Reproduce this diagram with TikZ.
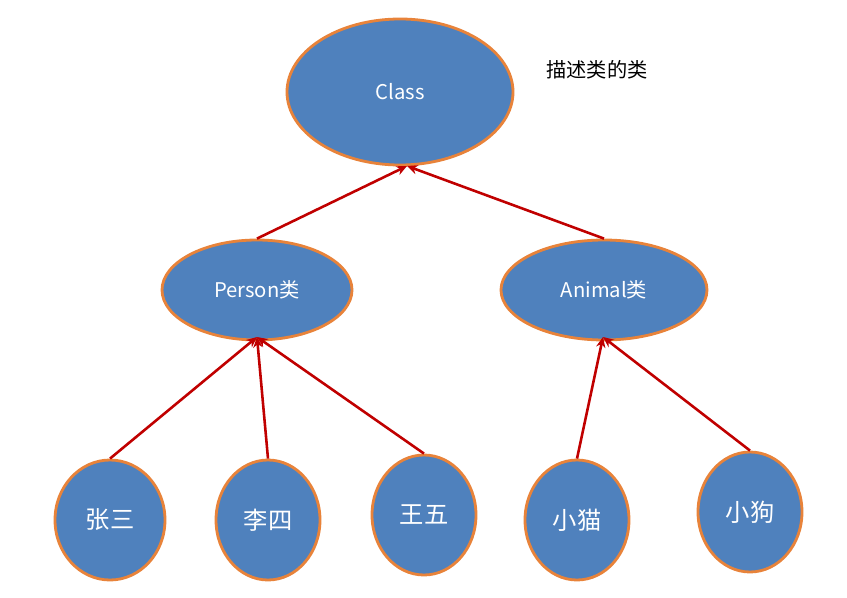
\documentclass[tikz,border=0pt]{standalone}
\usepackage{fontspec}
\setmainfont{Carlito}
\newfontfamily\cjk{Noto Sans CJK SC}
\usetikzlibrary{positioning,shapes,arrows.meta}
\definecolor{fillblue}{HTML}{4F81BD}
\definecolor{rimorange}{HTML}{E8833A}
\definecolor{arrowred}{HTML}{C00000}
\tikzset{
	blob/.style = {ellipse, draw=rimorange, line width=2.4pt, fill=fillblue, text=white, font=\cjk\LARGE, inner sep=0pt},
	leaf/.style = {blob, font=\cjk\huge, minimum width=3.12cm, minimum height=3.6cm},
	link/.style = {-{Stealth[length=9pt,width=8pt]}, draw=arrowred, line width=2.2pt}
}
\begin{document}
\begin{tikzpicture}[x=0.03cm, y=-0.03cm]
	\useasboundingbox (0,0) rectangle (847,598);
	\node (cls) [blob, minimum width=6.78cm, minimum height=4.38cm] at (400,92) {Class};
	\node (note) [font=\cjk\LARGE] at (597,70) {描述类的类};
	\node (per) [blob, minimum width=5.7cm, minimum height=3cm] at (257,290) {Person类};
	\node (ani) [blob, minimum width=6.18cm, minimum height=3cm] at (604,290) {Animal类};
	\node (zs) [leaf, minimum width=3.3cm] at (110,520) {张三};
	\node (ls) [leaf] at (268,520) {李四};
	\node (ww) [leaf] at (424,515) {王五};
	\node (xm) [leaf] at (577,520) {小猫};
	\node (xg) [leaf] at (750,512) {小狗};
	\coordinate (clsin) at (407,166);
	\coordinate (perin) at (257,337);
	\coordinate (aniin) at (603,337);
	\draw[link] (per.north) -- (clsin);
	\draw[link] (ani.north) -- (clsin);
	\draw[link] (zs.north) -- (perin);
	\draw[link] (ls.north) -- (perin);
	\draw[link] (ww.north) -- (perin);
	\draw[link] (xm.north) -- (aniin);
	\draw[link] (xg.north) -- (aniin);
\end{tikzpicture}
\end{document}
